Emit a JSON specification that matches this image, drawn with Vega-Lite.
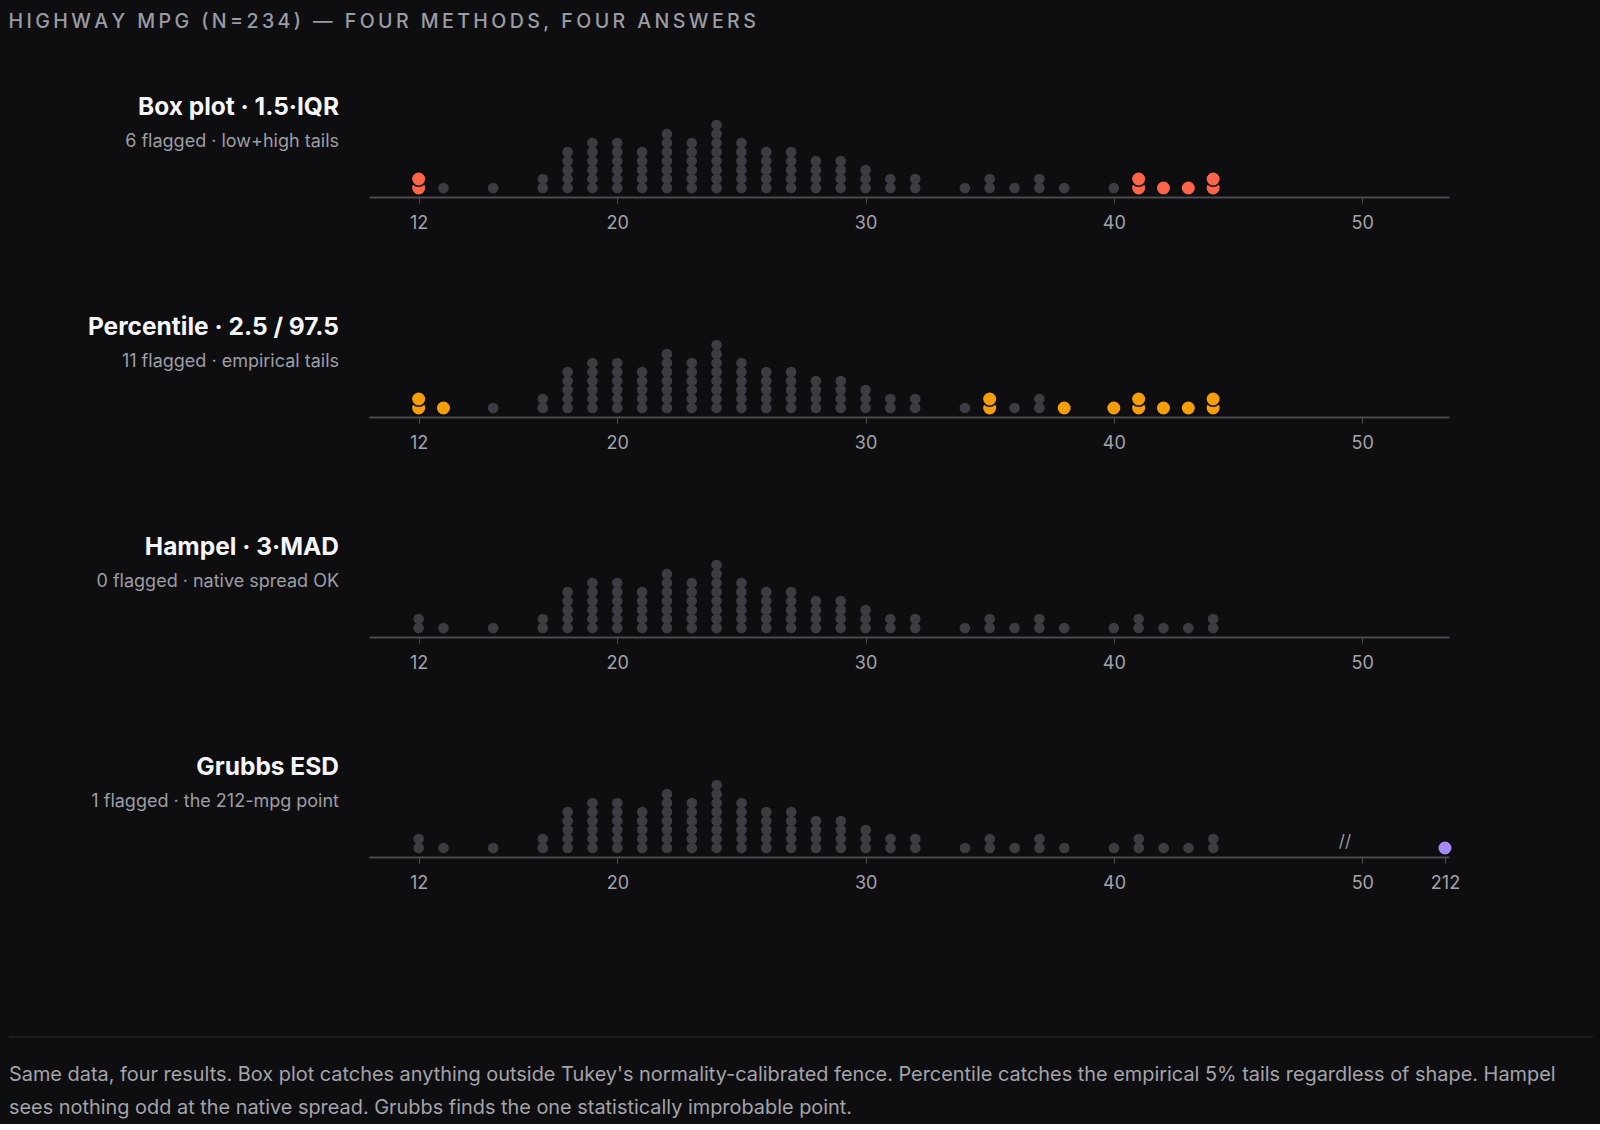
{
  "$schema": "https://vega.github.io/schema/vega-lite/v6.json",
  "background": "#0e0e10",
  "padding": {"left": 8, "top": 12, "right": 8, "bottom": 6},
  "title": {
    "text": "H\u2009I\u2009G\u2009H\u2009W\u2009A\u2009Y\u2009 \u2009M\u2009P\u2009G\u2009 \u2009(\u2009N\u2009=\u20092\u20093\u20094\u2009)\u2009 \u2009—\u2009 \u2009F\u2009O\u2009U\u2009R\u2009 \u2009M\u2009E\u2009T\u2009H\u2009O\u2009D\u2009S\u2009,\u2009 \u2009F\u2009O\u2009U\u2009R\u2009 \u2009A\u2009N\u2009S\u2009W\u2009E\u2009R\u2009S",
    "anchor": "start",
    "frame": "bounds",
    "font": "Inter",
    "fontSize": 19.6,
    "fontWeight": 500,
    "color": "#9a9ca3",
    "offset": 62
  },
  "datasets": {
    "panels": [
      {"method": "box", "name": "Box plot · 1.5·IQR", "note": "6 flagged · low+high tails"},
      {"method": "pct", "name": "Percentile · 2.5 / 97.5", "note": "11 flagged · empirical tails"},
      {"method": "ham", "name": "Hampel · 3·MAD", "note": "0 flagged · native spread OK"},
      {"method": "grb", "name": "Grubbs ESD", "note": "1 flagged · the 212-mpg point"}
    ],
    "dots": [
      {"mpg": 12, "box": 1, "pct": 1, "ham": 0, "grb": 0},
      {"mpg": 12, "box": 1, "pct": 1, "ham": 0, "grb": 0},
      {"mpg": 13, "box": 0, "pct": 1, "ham": 0, "grb": 0},
      {"mpg": 15, "box": 0, "pct": 0, "ham": 0, "grb": 0},
      {"mpg": 17, "box": 0, "pct": 0, "ham": 0, "grb": 0},
      {"mpg": 17, "box": 0, "pct": 0, "ham": 0, "grb": 0},
      {"mpg": 18, "box": 0, "pct": 0, "ham": 0, "grb": 0},
      {"mpg": 18, "box": 0, "pct": 0, "ham": 0, "grb": 0},
      {"mpg": 18, "box": 0, "pct": 0, "ham": 0, "grb": 0},
      {"mpg": 18, "box": 0, "pct": 0, "ham": 0, "grb": 0},
      {"mpg": 18, "box": 0, "pct": 0, "ham": 0, "grb": 0},
      {"mpg": 19, "box": 0, "pct": 0, "ham": 0, "grb": 0},
      {"mpg": 19, "box": 0, "pct": 0, "ham": 0, "grb": 0},
      {"mpg": 19, "box": 0, "pct": 0, "ham": 0, "grb": 0},
      {"mpg": 19, "box": 0, "pct": 0, "ham": 0, "grb": 0},
      {"mpg": 19, "box": 0, "pct": 0, "ham": 0, "grb": 0},
      {"mpg": 19, "box": 0, "pct": 0, "ham": 0, "grb": 0},
      {"mpg": 20, "box": 0, "pct": 0, "ham": 0, "grb": 0},
      {"mpg": 20, "box": 0, "pct": 0, "ham": 0, "grb": 0},
      {"mpg": 20, "box": 0, "pct": 0, "ham": 0, "grb": 0},
      {"mpg": 20, "box": 0, "pct": 0, "ham": 0, "grb": 0},
      {"mpg": 20, "box": 0, "pct": 0, "ham": 0, "grb": 0},
      {"mpg": 20, "box": 0, "pct": 0, "ham": 0, "grb": 0},
      {"mpg": 21, "box": 0, "pct": 0, "ham": 0, "grb": 0},
      {"mpg": 21, "box": 0, "pct": 0, "ham": 0, "grb": 0},
      {"mpg": 21, "box": 0, "pct": 0, "ham": 0, "grb": 0},
      {"mpg": 21, "box": 0, "pct": 0, "ham": 0, "grb": 0},
      {"mpg": 21, "box": 0, "pct": 0, "ham": 0, "grb": 0},
      {"mpg": 22, "box": 0, "pct": 0, "ham": 0, "grb": 0},
      {"mpg": 22, "box": 0, "pct": 0, "ham": 0, "grb": 0},
      {"mpg": 22, "box": 0, "pct": 0, "ham": 0, "grb": 0},
      {"mpg": 22, "box": 0, "pct": 0, "ham": 0, "grb": 0},
      {"mpg": 22, "box": 0, "pct": 0, "ham": 0, "grb": 0},
      {"mpg": 22, "box": 0, "pct": 0, "ham": 0, "grb": 0},
      {"mpg": 22, "box": 0, "pct": 0, "ham": 0, "grb": 0},
      {"mpg": 23, "box": 0, "pct": 0, "ham": 0, "grb": 0},
      {"mpg": 23, "box": 0, "pct": 0, "ham": 0, "grb": 0},
      {"mpg": 23, "box": 0, "pct": 0, "ham": 0, "grb": 0},
      {"mpg": 23, "box": 0, "pct": 0, "ham": 0, "grb": 0},
      {"mpg": 23, "box": 0, "pct": 0, "ham": 0, "grb": 0},
      {"mpg": 23, "box": 0, "pct": 0, "ham": 0, "grb": 0},
      {"mpg": 24, "box": 0, "pct": 0, "ham": 0, "grb": 0},
      {"mpg": 24, "box": 0, "pct": 0, "ham": 0, "grb": 0},
      {"mpg": 24, "box": 0, "pct": 0, "ham": 0, "grb": 0},
      {"mpg": 24, "box": 0, "pct": 0, "ham": 0, "grb": 0},
      {"mpg": 24, "box": 0, "pct": 0, "ham": 0, "grb": 0},
      {"mpg": 24, "box": 0, "pct": 0, "ham": 0, "grb": 0},
      {"mpg": 24, "box": 0, "pct": 0, "ham": 0, "grb": 0},
      {"mpg": 24, "box": 0, "pct": 0, "ham": 0, "grb": 0},
      {"mpg": 25, "box": 0, "pct": 0, "ham": 0, "grb": 0},
      {"mpg": 25, "box": 0, "pct": 0, "ham": 0, "grb": 0},
      {"mpg": 25, "box": 0, "pct": 0, "ham": 0, "grb": 0},
      {"mpg": 25, "box": 0, "pct": 0, "ham": 0, "grb": 0},
      {"mpg": 25, "box": 0, "pct": 0, "ham": 0, "grb": 0},
      {"mpg": 25, "box": 0, "pct": 0, "ham": 0, "grb": 0},
      {"mpg": 26, "box": 0, "pct": 0, "ham": 0, "grb": 0},
      {"mpg": 26, "box": 0, "pct": 0, "ham": 0, "grb": 0},
      {"mpg": 26, "box": 0, "pct": 0, "ham": 0, "grb": 0},
      {"mpg": 26, "box": 0, "pct": 0, "ham": 0, "grb": 0},
      {"mpg": 26, "box": 0, "pct": 0, "ham": 0, "grb": 0},
      {"mpg": 27, "box": 0, "pct": 0, "ham": 0, "grb": 0},
      {"mpg": 27, "box": 0, "pct": 0, "ham": 0, "grb": 0},
      {"mpg": 27, "box": 0, "pct": 0, "ham": 0, "grb": 0},
      {"mpg": 27, "box": 0, "pct": 0, "ham": 0, "grb": 0},
      {"mpg": 27, "box": 0, "pct": 0, "ham": 0, "grb": 0},
      {"mpg": 28, "box": 0, "pct": 0, "ham": 0, "grb": 0},
      {"mpg": 28, "box": 0, "pct": 0, "ham": 0, "grb": 0},
      {"mpg": 28, "box": 0, "pct": 0, "ham": 0, "grb": 0},
      {"mpg": 28, "box": 0, "pct": 0, "ham": 0, "grb": 0},
      {"mpg": 29, "box": 0, "pct": 0, "ham": 0, "grb": 0},
      {"mpg": 29, "box": 0, "pct": 0, "ham": 0, "grb": 0},
      {"mpg": 29, "box": 0, "pct": 0, "ham": 0, "grb": 0},
      {"mpg": 29, "box": 0, "pct": 0, "ham": 0, "grb": 0},
      {"mpg": 30, "box": 0, "pct": 0, "ham": 0, "grb": 0},
      {"mpg": 30, "box": 0, "pct": 0, "ham": 0, "grb": 0},
      {"mpg": 30, "box": 0, "pct": 0, "ham": 0, "grb": 0},
      {"mpg": 31, "box": 0, "pct": 0, "ham": 0, "grb": 0},
      {"mpg": 31, "box": 0, "pct": 0, "ham": 0, "grb": 0},
      {"mpg": 32, "box": 0, "pct": 0, "ham": 0, "grb": 0},
      {"mpg": 32, "box": 0, "pct": 0, "ham": 0, "grb": 0},
      {"mpg": 34, "box": 0, "pct": 0, "ham": 0, "grb": 0},
      {"mpg": 35, "box": 0, "pct": 1, "ham": 0, "grb": 0},
      {"mpg": 35, "box": 0, "pct": 1, "ham": 0, "grb": 0},
      {"mpg": 36, "box": 0, "pct": 0, "ham": 0, "grb": 0},
      {"mpg": 37, "box": 0, "pct": 0, "ham": 0, "grb": 0},
      {"mpg": 37, "box": 0, "pct": 0, "ham": 0, "grb": 0},
      {"mpg": 38, "box": 0, "pct": 1, "ham": 0, "grb": 0},
      {"mpg": 40, "box": 0, "pct": 1, "ham": 0, "grb": 0},
      {"mpg": 41, "box": 1, "pct": 1, "ham": 0, "grb": 0},
      {"mpg": 41, "box": 1, "pct": 1, "ham": 0, "grb": 0},
      {"mpg": 42, "box": 1, "pct": 1, "ham": 0, "grb": 0},
      {"mpg": 43, "box": 1, "pct": 1, "ham": 0, "grb": 0},
      {"mpg": 44, "box": 1, "pct": 1, "ham": 0, "grb": 0},
      {"mpg": 44, "box": 1, "pct": 1, "ham": 0, "grb": 0},
      {"mpg": 212, "box": 0, "pct": 0, "ham": 0, "grb": 1}
    ]
  },
  "config": {
    "view": {"stroke": null},
    "font": "Inter",
    "axis": {
      "grid": false,
      "title": null,
      "domainColor": "#4a4a50",
      "domainWidth": 2,
      "tickColor": "#4a4a50",
      "tickSize": 6,
      "tickWidth": 1,
      "labelColor": "#a3a3aa",
      "labelFont": "Inter",
      "labelFontSize": 18,
      "labelPadding": 11,
      "labelFlush": false
    }
  },
  "vconcat": [
    {
      "hconcat": [
        {
          "width": 330, "height": 90,
          "data": {"name": "panels"},
          "transform": [{"filter": "datum.method === 'box'"}],
          "layer": [
            {"mark": {"type": "text", "align": "right", "baseline": "middle", "fontSize": 24.5, "fontWeight": 700, "color": "#f5f5f7"},
             "encoding": {"text": {"field": "name"},
               "x": {"datum": 1, "type": "quantitative", "scale": {"domain": [0, 1]}, "axis": null},
               "y": {"datum": 1, "type": "quantitative", "scale": {"domain": [0, 90], "reverse": true}, "axis": null}}},
            {"mark": {"type": "text", "align": "right", "baseline": "middle", "fontSize": 18, "color": "#9d9da4"},
             "encoding": {"text": {"field": "note"},
               "x": {"datum": 1, "type": "quantitative"},
               "y": {"datum": 35, "type": "quantitative"}}}
          ]
        },
        {
          "width": 1080, "height": 90,
          "data": {"name": "dots"},
          "transform": [
            {"filter": {"field": "mpg", "range": [10, 53.5]}},
            {"window": [{"op": "row_number", "as": "k"}], "groupby": ["mpg"]}
          ],
          "encoding": {
            "x": {"field": "mpg", "type": "quantitative", "scale": {"domain": [10, 53.5], "nice": false, "zero": false}, "axis": {"values": [12, 20, 30, 40, 50]}},
            "y": {"field": "k", "type": "quantitative", "scale": {"domain": [0, 10]}, "axis": null}
          },
          "layer": [
            {"transform": [{"filter": "datum.box === 0"}], "mark": {"type": "circle", "size": 113, "color": "#3c3c42", "opacity": 1}},
            {"transform": [{"filter": "datum.box === 1"}], "mark": {"type": "circle", "size": 210, "color": "#fc6449", "opacity": 1, "stroke": "#0e0e10", "strokeWidth": 1.5}}
          ]
        }
      ],
      "spacing": 30,
      "bounds": "flush"
    },
    {
      "hconcat": [
        {
          "width": 330, "height": 90,
          "data": {"name": "panels"},
          "transform": [{"filter": "datum.method === 'pct'"}],
          "layer": [
            {"mark": {"type": "text", "align": "right", "baseline": "middle", "fontSize": 24.5, "fontWeight": 700, "color": "#f5f5f7"},
             "encoding": {"text": {"field": "name"},
               "x": {"datum": 1, "type": "quantitative", "scale": {"domain": [0, 1]}, "axis": null},
               "y": {"datum": 1, "type": "quantitative", "scale": {"domain": [0, 90], "reverse": true}, "axis": null}}},
            {"mark": {"type": "text", "align": "right", "baseline": "middle", "fontSize": 18, "color": "#9d9da4"},
             "encoding": {"text": {"field": "note"},
               "x": {"datum": 1, "type": "quantitative"},
               "y": {"datum": 35, "type": "quantitative"}}}
          ]
        },
        {
          "width": 1080, "height": 90,
          "data": {"name": "dots"},
          "transform": [
            {"filter": {"field": "mpg", "range": [10, 53.5]}},
            {"window": [{"op": "row_number", "as": "k"}], "groupby": ["mpg"]}
          ],
          "encoding": {
            "x": {"field": "mpg", "type": "quantitative", "scale": {"domain": [10, 53.5], "nice": false, "zero": false}, "axis": {"values": [12, 20, 30, 40, 50]}},
            "y": {"field": "k", "type": "quantitative", "scale": {"domain": [0, 10]}, "axis": null}
          },
          "layer": [
            {"transform": [{"filter": "datum.pct === 0"}], "mark": {"type": "circle", "size": 113, "color": "#3c3c42", "opacity": 1}},
            {"transform": [{"filter": "datum.pct === 1"}], "mark": {"type": "circle", "size": 210, "color": "#f59e0b", "opacity": 1, "stroke": "#0e0e10", "strokeWidth": 1.5}}
          ]
        }
      ],
      "spacing": 30,
      "bounds": "flush"
    },
    {
      "hconcat": [
        {
          "width": 330, "height": 90,
          "data": {"name": "panels"},
          "transform": [{"filter": "datum.method === 'ham'"}],
          "layer": [
            {"mark": {"type": "text", "align": "right", "baseline": "middle", "fontSize": 24.5, "fontWeight": 700, "color": "#f5f5f7"},
             "encoding": {"text": {"field": "name"},
               "x": {"datum": 1, "type": "quantitative", "scale": {"domain": [0, 1]}, "axis": null},
               "y": {"datum": 1, "type": "quantitative", "scale": {"domain": [0, 90], "reverse": true}, "axis": null}}},
            {"mark": {"type": "text", "align": "right", "baseline": "middle", "fontSize": 18, "color": "#9d9da4"},
             "encoding": {"text": {"field": "note"},
               "x": {"datum": 1, "type": "quantitative"},
               "y": {"datum": 35, "type": "quantitative"}}}
          ]
        },
        {
          "width": 1080, "height": 90,
          "data": {"name": "dots"},
          "transform": [
            {"filter": {"field": "mpg", "range": [10, 53.5]}},
            {"window": [{"op": "row_number", "as": "k"}], "groupby": ["mpg"]}
          ],
          "encoding": {
            "x": {"field": "mpg", "type": "quantitative", "scale": {"domain": [10, 53.5], "nice": false, "zero": false}, "axis": {"values": [12, 20, 30, 40, 50]}},
            "y": {"field": "k", "type": "quantitative", "scale": {"domain": [0, 10]}, "axis": null}
          },
          "layer": [
            {"transform": [{"filter": "datum.ham === 0"}], "mark": {"type": "circle", "size": 113, "color": "#3c3c42", "opacity": 1}},
            {"transform": [{"filter": "datum.ham === 1"}], "mark": {"type": "circle", "size": 210, "color": "#34d399", "opacity": 1, "stroke": "#0e0e10", "strokeWidth": 1.5}}
          ]
        }
      ],
      "spacing": 30,
      "bounds": "flush"
    },
    {
      "hconcat": [
        {
          "width": 330, "height": 90,
          "data": {"name": "panels"},
          "transform": [{"filter": "datum.method === 'grb'"}],
          "layer": [
            {"mark": {"type": "text", "align": "right", "baseline": "middle", "fontSize": 24.5, "fontWeight": 700, "color": "#f5f5f7"},
             "encoding": {"text": {"field": "name"},
               "x": {"datum": 1, "type": "quantitative", "scale": {"domain": [0, 1]}, "axis": null},
               "y": {"datum": 1, "type": "quantitative", "scale": {"domain": [0, 90], "reverse": true}, "axis": null}}},
            {"mark": {"type": "text", "align": "right", "baseline": "middle", "fontSize": 18, "color": "#9d9da4"},
             "encoding": {"text": {"field": "note"},
               "x": {"datum": 1, "type": "quantitative"},
               "y": {"datum": 35, "type": "quantitative"}}}
          ]
        },
        {
          "width": 1080, "height": 90,
          "layer": [
            {
              "data": {"name": "dots"},
              "transform": [
                {"window": [{"op": "row_number", "as": "k"}], "groupby": ["mpg"]}
              ],
              "encoding": {
                "x": {"field": "mpg", "type": "quantitative",
                      "scale": {"domain": [10, 52, 212, 230], "range": [0, 1043, 1076, 1080], "nice": false, "zero": false},
                      "axis": {"values": [12, 20, 30, 40, 50, 212]}},
                "y": {"field": "k", "type": "quantitative", "scale": {"domain": [0, 10]}, "axis": null}
              },
              "layer": [
                {"transform": [{"filter": "datum.grb === 0"}], "mark": {"type": "circle", "size": 113, "color": "#3c3c42", "opacity": 1}},
                {"transform": [{"filter": "datum.grb === 1"}], "mark": {"type": "circle", "size": 210, "color": "#a78bfa", "opacity": 1, "stroke": "#0e0e10", "strokeWidth": 1.5}}
              ]
            },
            {
              "data": {"values": [{"mark": "//"}]},
              "mark": {"type": "text", "fontSize": 17, "color": "#9a9aa1", "align": "center", "baseline": "middle"},
              "encoding": {
                "text": {"field": "mark"},
                "x": {"datum": 49.3, "type": "quantitative"},
                "y": {"datum": 1.7, "type": "quantitative"}
              }
            }
          ]
        }
      ],
      "spacing": 30,
      "bounds": "flush"
    },
    {
      "width": 1584, "height": 130,
      "data": {"values": [{"note": ["Same data, four results. Box plot catches anything outside Tukey's normality-calibrated fence. Percentile catches the empirical 5% tails regardless of shape. Hampel", "sees nothing odd at the native spread. Grubbs finds the one statistically improbable point."]}]},
      "layer": [
        {"mark": {"type": "rule", "color": "#2a2a2f", "strokeWidth": 1},
         "encoding": {"y": {"datum": 50, "type": "quantitative", "scale": {"domain": [0, 130], "reverse": true}, "axis": null}}},
        {"mark": {"type": "text", "align": "left", "baseline": "middle", "fontSize": 19.9, "lineHeight": 33, "color": "#a3a3aa"},
         "encoding": {
           "text": {"field": "note"},
           "x": {"datum": 0, "type": "quantitative", "scale": {"domain": [0, 1]}, "axis": null},
           "y": {"datum": 87.5, "type": "quantitative"}}}
      ]
    }
  ],
  "spacing": 220,
  "bounds": "flush"
}
